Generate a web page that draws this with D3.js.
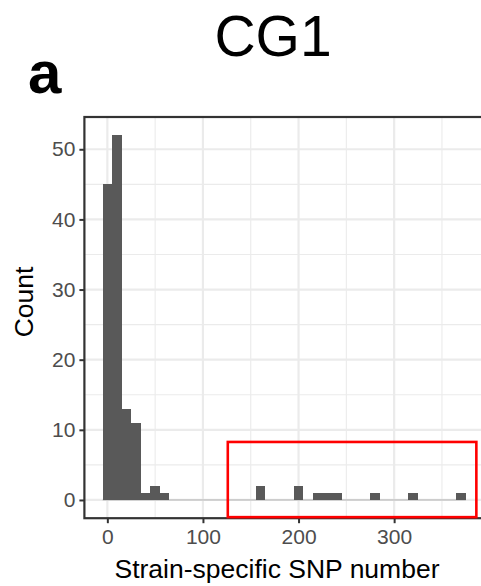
<!DOCTYPE html>
<html>
<head>
<meta charset="utf-8">
<script src="https://cdn.jsdelivr.net/npm/d3@7"></script>
<style>
  body { margin: 0; background: #fff; }
  svg { display: block; font-family: "Liberation Sans", Arial, sans-serif; }
</style>
</head>
<body>
<div id="chart"></div>
<script>
// histogram bins (centre of each 10-wide bin) and their counts
var binCenters = [0, 10, 20, 30, 40, 50, 60, 70, 80, 90, 100, 110, 120, 130, 140, 150, 160, 170, 180, 190,
                  200, 210, 220, 230, 240, 250, 260, 270, 280, 290, 300, 310, 320, 330, 340, 350, 360, 370];
var counts =     [45, 52, 13, 11, 1, 2, 1, 0, 0, 0, 0, 0, 0, 0, 0, 0, 2, 0, 0, 0,
                  2, 0, 1, 1, 1, 0, 0, 0, 1, 0, 0, 0, 1, 0, 0, 0, 0, 1];
var binWidth = 10;
var xTicks = [0, 100, 200, 300];
var yTicks = [0, 10, 20, 30, 40, 50];
// red highlight box, in data units
var highlightX = [126, 386];
var highlightY = [-2.45, 8.27];

var W = 481, H = 586;
var svg = d3.select("#chart").append("svg")
    .attr("width", W)
    .attr("height", H);

// scales (ggplot default 5% expansion)
var xMin = -5, xMax = 375, xPad = (xMax - xMin) * 0.05;
var yPad = 52 * 0.05;
var x = d3.scaleLinear().domain([xMin - xPad, xMax + xPad]).range([84.4, 484]);
var y = d3.scaleLinear().domain([-yPad, 52 + yPad]).range([518.2, 117]);

var panelLeft = x.range()[0], panelRight = x.range()[1];
var panelTop = y.range()[1], panelBottom = y.range()[0];

// grid
var g = svg.append("g");
var xMinor = d3.range(50, 400, 100);
var yMinor = d3.range(5, 55, 10);
g.selectAll(".xminor").data(xMinor).enter().append("line")
    .attr("x1", function (d) { return x(d); }).attr("x2", function (d) { return x(d); })
    .attr("y1", panelTop).attr("y2", panelBottom)
    .attr("stroke", "#ebebeb").attr("stroke-width", 1.1);
g.selectAll(".yminor").data(yMinor).enter().append("line")
    .attr("x1", panelLeft).attr("x2", panelRight)
    .attr("y1", function (d) { return y(d); }).attr("y2", function (d) { return y(d); })
    .attr("stroke", "#ebebeb").attr("stroke-width", 1.1);
g.selectAll(".xmajor").data(xTicks).enter().append("line")
    .attr("x1", function (d) { return x(d); }).attr("x2", function (d) { return x(d); })
    .attr("y1", panelTop).attr("y2", panelBottom)
    .attr("stroke", "#ebebeb").attr("stroke-width", 2.2);
g.selectAll(".ymajor").data(yTicks).enter().append("line")
    .attr("x1", panelLeft).attr("x2", panelRight)
    .attr("y1", function (d) { return y(d); }).attr("y2", function (d) { return y(d); })
    .attr("stroke", "#ebebeb").attr("stroke-width", 2.2);

// zero-height bins show as a thin grey baseline
svg.append("line")
    .attr("x1", x(binCenters[0] - binWidth / 2))
    .attr("x2", x(binCenters[binCenters.length - 1] + binWidth / 2))
    .attr("y1", y(0)).attr("y2", y(0))
    .attr("stroke", "#b5b5b5").attr("stroke-width", 1);

// bars
var bins = binCenters.map(function (c, i) { return { c: c, n: counts[i] }; });
svg.selectAll(".bar")
    .data(bins.filter(function (d) { return d.n > 0; }))
    .enter().append("rect")
    .attr("class", "bar")
    .attr("x", function (d) { return x(d.c - binWidth / 2); })
    .attr("width", function (d) { return x(d.c + binWidth / 2) - x(d.c - binWidth / 2); })
    .attr("y", function (d) { return y(d.n); })
    .attr("height", function (d) { return y(0) - y(d.n); })
    .attr("fill", "#595959")
    .attr("shape-rendering", "crispEdges");

// axes
var xAxis = svg.append("g")
    .attr("transform", "translate(0," + panelBottom + ")")
    .call(d3.axisBottom(x).tickValues(xTicks).tickSize(5).tickPadding(6));
var yAxis = svg.append("g")
    .attr("transform", "translate(" + panelLeft + ",0)")
    .call(d3.axisLeft(y).tickValues(yTicks).tickSize(5).tickPadding(4));
[xAxis, yAxis].forEach(function (a) {
    a.select(".domain").remove();
    a.selectAll(".tick line").attr("stroke", "#333").attr("stroke-width", 2);
    a.selectAll(".tick text")
        .attr("fill", "#4d4d4d")
        .style("font-size", "21px")
        .style("font-family", "'Liberation Sans', Arial, sans-serif");
});

// panel border
svg.append("rect")
    .attr("x", panelLeft).attr("y", panelTop)
    .attr("width", panelRight - panelLeft).attr("height", panelBottom - panelTop)
    .attr("fill", "none")
    .attr("stroke", "#333").attr("stroke-width", 2.2);

// highlight box
svg.append("rect")
    .attr("x", x(highlightX[0]))
    .attr("y", y(highlightY[1]))
    .attr("width", x(highlightX[1]) - x(highlightX[0]))
    .attr("height", y(highlightY[0]) - y(highlightY[1]))
    .attr("fill", "none")
    .attr("stroke", "#ff0000").attr("stroke-width", 2.6);

// titles
svg.append("text")
    .attr("x", 273).attr("y", 56)
    .attr("text-anchor", "middle")
    .style("font-size", "57px")
    .text("CG1");
svg.append("text")
    .attr("x", 28).attr("y", 93)
    .style("font-size", "60px")
    .style("font-weight", "bold")
    .text("a");
svg.append("text")
    .attr("x", 277).attr("y", 578)
    .attr("text-anchor", "middle")
    .style("font-size", "26.5px")
    .text("Strain-specific SNP number");
svg.append("text")
    .attr("transform", "translate(33,302) rotate(-90)")
    .attr("text-anchor", "middle")
    .style("font-size", "26.5px")
    .text("Count");
</script>
</body>
</html>
